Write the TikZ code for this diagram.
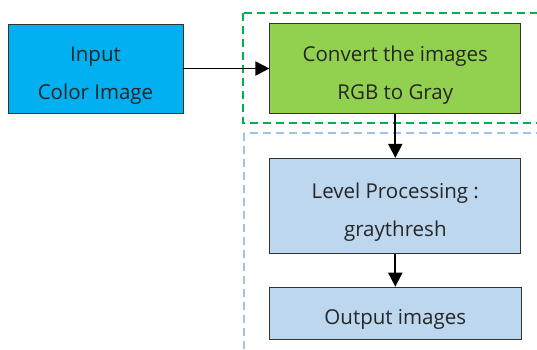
\documentclass[tikz,border=0pt]{standalone}
\usepackage{fontspec}
\setmainfont{Open Sans}
\usepackage{xcolor}
\usetikzlibrary{positioning,arrows.meta}
\definecolor{inblue}{HTML}{00B0F0}
\definecolor{convgreen}{HTML}{92D050}
\definecolor{procblue}{HTML}{BDD7EE}
\definecolor{dashgreen}{HTML}{00B050}
\definecolor{dashblue}{HTML}{9DC3E6}
\newcommand{\lowtext}{\rule{0pt}{28pt}}
\tikzset{
  >={Triangle[length=14pt,width=14pt]},
  stepbox/.style={rectangle, draw=black!80, line width=0.8pt, text=black!85,
    align=center, font=\fontsize{20.5}{38}\selectfont, inner sep=0pt},
  myarrow/.style={draw, ->, line width=1.9pt},
  groupbox/.style={dashed, line width=2pt, dash pattern=on 8pt off 5pt},
}
\begin{document}
\begin{tikzpicture}[x=1pt, y=-1pt]
    \useasboundingbox (0,0) rectangle (537,349);
    \clip (0,0) rectangle (537,349);
    % groups
    \draw[groupbox, draw=dashgreen] (243,13) rectangle (560,123);
    \draw[groupbox, draw=dashblue] (244,133) rectangle (560,370);
    % steps
    \node[stepbox, fill=inblue, minimum width=175pt, minimum height=89pt] (input) at (95.5,68.5) {\lowtext Input\\Color Image};
    \node[stepbox, fill=convgreen, minimum width=251pt, minimum height=90pt, right=86pt of input] (convert) {\lowtext Convert the images\\RGB to Gray};
    \node[stepbox, fill=procblue, minimum width=251pt, minimum height=95pt, below=44pt of convert] (level) {\lowtext Level Processing :\\graythresh};
    \node[stepbox, fill=procblue, minimum width=252pt, minimum height=52pt, below=33pt of level] (output) {\lowtext Output images};

    \path[myarrow] (input) -- (convert);
    \path[myarrow] (convert) -- (level);
    \path[myarrow] (level) -- (output);
\end{tikzpicture}
\end{document}
